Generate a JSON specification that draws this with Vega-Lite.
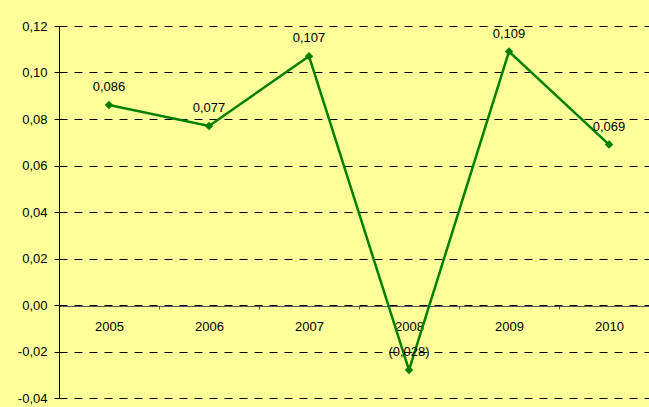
{
  "$schema": "https://vega.github.io/schema/vega-lite/v6.json",
  "width": 590,
  "height": 372,
  "autosize": {"type": "none"},
  "padding": {"left": 59, "top": 26, "right": 0, "bottom": 9},
  "background": "#FFFF99",
  "config": {
    "view": {"stroke": null},
    "font": "Liberation Sans",
    "locale": {"number": {"decimal": ",", "thousands": ".", "grouping": [3], "currency": ["", ""], "minus": "-"}}
  },
  "data": {
    "values": [
      {"year": "2005", "value": 0.086},
      {"year": "2006", "value": 0.077},
      {"year": "2007", "value": 0.107},
      {"year": "2008", "value": -0.028},
      {"year": "2009", "value": 0.109},
      {"year": "2010", "value": 0.069}
    ]
  },
  "encoding": {
    "x": {
      "field": "year",
      "type": "ordinal",
      "scale": {"type": "band", "range": [0, 600], "paddingInner": 0, "paddingOuter": 0},
      "axis": {
        "title": null,
        "orient": "bottom",
        "offset": -92,
        "labelAngle": 0,
        "labelFontSize": 13,
        "labelColor": "black",
        "labelPadding": 11,
        "tickBand": "extent",
        "tickSize": 3,
        "tickColor": "#555555",
        "domainColor": "#555555",
        "domainWidth": 1,
        "grid": false
      }
    },
    "y": {
      "field": "value",
      "type": "quantitative",
      "scale": {"domain": [-0.04, 0.12], "nice": false, "zero": false},
      "axis": {
        "title": null,
        "values": [-0.04, -0.02, 0, 0.02, 0.04, 0.06, 0.08, 0.1, 0.12],
        "format": ".2f",
        "labelFontSize": 13,
        "labelColor": "black",
        "labelPadding": 7,
        "tickSize": 5,
        "tickColor": "black",
        "domainColor": "black",
        "grid": true,
        "gridColor": "black",
        "gridDash": [8, 7],
        "gridWidth": 1,
        "gridOpacity": 1
      }
    }
  },
  "layer": [
    {"mark": {"type": "line", "color": "#008000", "strokeWidth": 2.5}},
    {"mark": {"type": "point", "shape": "diamond", "filled": true, "color": "#008000", "size": 72, "opacity": 1}},
    {
      "mark": {"type": "text", "dy": -18, "fontSize": 13, "color": "black"},
      "encoding": {"text": {"field": "value", "type": "quantitative", "format": "(.3f"}}
    }
  ]
}
